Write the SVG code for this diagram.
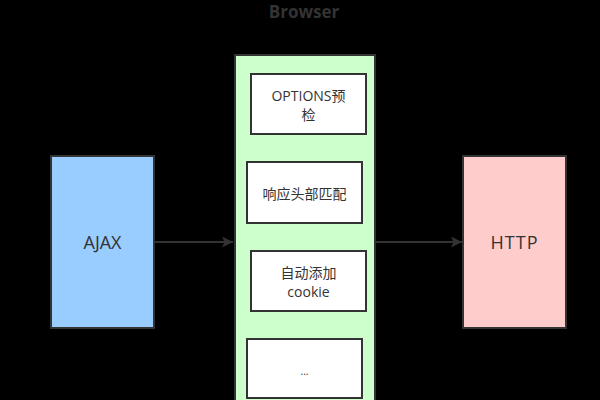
<svg xmlns="http://www.w3.org/2000/svg" width="600" height="400" viewBox="0 0 600 400">
<defs>
<style>
.box{stroke:#333;stroke-width:2}
.t{font-family:"Open Sans","Noto Sans CJK SC",sans-serif;fill:#333;text-anchor:middle;dominant-baseline:central}
.s{font-size:14px}
.b{font-size:18px}
.edge{stroke:#333;stroke-width:2;fill:none}
</style>
<marker id="ah" markerWidth="12" markerHeight="12" refX="11" refY="5.5" orient="auto" markerUnits="userSpaceOnUse">
<path d="M0,0 L11,5.5 L0,11 L2.5,5.5 Z" fill="#333"/>
</marker>
</defs>
<rect width="600" height="400" fill="#000"/>
<text class="t" x="304" y="11" style="font-size:17px;font-weight:bold">Browser</text>
<g id="browser">
<rect class="box" x="235" y="55" width="140" height="360" fill="#ccffcc"/>
</g>
<g id="options">
<rect class="box" x="251" y="74" width="115" height="60" fill="#fff"/>
<text class="t s" x="308.5" y="95">OPTIONS预</text>
<text class="t s" x="308.5" y="114">检</text>
</g>
<g id="match">
<rect class="box" x="247" y="162" width="115" height="61" fill="#fff"/>
<text class="t s" x="304.5" y="193">响应头部匹配</text>
</g>
<g id="cookie">
<rect class="box" x="251" y="251" width="115" height="60" fill="#fff"/>
<text class="t s" x="308.5" y="272">自动添加</text>
<text class="t s" x="308.5" y="291">cookie</text>
</g>
<g id="more">
<rect class="box" x="247" y="339" width="115" height="59" fill="#fff"/>
<text class="t" x="304.5" y="371" style="font-size:10px">...</text>
</g>
<g id="ajax">
<rect class="box" x="51" y="156" width="103" height="172" fill="#99ccff"/>
<text class="t b" x="102.5" y="242">AJAX</text>
</g>
<g id="http">
<rect class="box" x="463" y="156" width="103" height="172" fill="#ffcccc"/>
<text class="t b" x="514.5" y="242" style="letter-spacing:1px">HTTP</text>
</g>
<g id="connectors">
<line class="edge" x1="154" y1="242" x2="233" y2="242" marker-end="url(#ah)"/>
<line class="edge" x1="376" y1="242" x2="462" y2="242" marker-end="url(#ah)"/>
</g>
</svg>
